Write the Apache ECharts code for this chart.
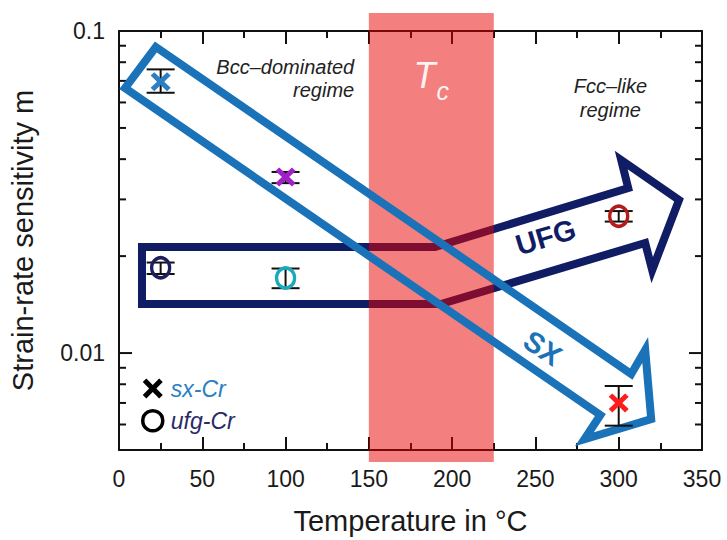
<!DOCTYPE html>
<html><head><meta charset="utf-8">
<script src="https://cdn.jsdelivr.net/npm/echarts@6/dist/echarts.min.js"></script>
<style>html,body{margin:0;padding:0;background:#fff}#c{width:727px;height:540px}</style>
</head><body><div id="c"></div>
<script>
const FONT = '"Liberation Sans", Arial, Helvetica, sans-serif';

// ---- data ----
const sxTemp = [25, 100, 300];
const sxM    = [0.0696, 0.0352, 0.0070];
const sxLow  = [0.0643, 0.0337, 0.00595];
const sxHigh = [0.0760, 0.0365, 0.00790];

const ufgTemp = [25, 100, 300];
const ufgM    = [0.0184, 0.0171, 0.0266];
const ufgLow  = [0.0176, 0.0159, 0.0256];
const ufgHigh = [0.0191, 0.0183, 0.0276];

const xTickLabels = [0, 50, 100, 150, 200, 250, 300, 350];
const yTickLabels = [0.01, 0.1];
const yMinorTicks = [0.006, 0.007, 0.008, 0.009, 0.02, 0.03, 0.04, 0.05, 0.06, 0.07, 0.08, 0.09];

const tcRange = [150, 225];

// arrow outlines in data coordinates (temperature, m)
const sxArrowT = [22.1, 307.5, 315.9, 319.5, 279.4, 289.0, 3.6];
const sxArrowM = [0.0892, 0.00861, 0.01022, 0.00624, 0.00540, 0.00642, 0.0665];
const ufgArrowT = [13.8, 189.7, 305.7, 301.5, 336.2, 320.1, 315.9, 193.3, 13.8];
const ufgArrowM = [0.02134, 0.02134, 0.03254, 0.03975, 0.02986, 0.01810, 0.02196, 0.01420, 0.01420];

// ---- styles ----
const sxColors  = ['#2b7fc4', '#a021c8', '#ff1c1c'];
const ufgColors = ['#1e1e5e', '#1aaabb', '#b31a1a'];
const SX_BLUE = '#1a72b8';
const UFG_NAVY = '#101c64';
const X_PATH = 'path://M0,1.8 L1.8,0 L5,3.2 L8.2,0 L10,1.8 L6.8,5 L10,8.2 L8.2,10 L5,6.8 L1.8,10 L0,8.2 L3.2,5 Z';

const chart = echarts.init(document.getElementById('c'), null, {renderer: 'svg'});

function polygonItem(T, M, color) {
  return function (params, api) {
    const pts = T.map((t, i) => api.coord([t, M[i]]));
    return {
      type: 'polygon',
      shape: {points: pts},
      style: {fill: 'none', stroke: color, lineWidth: 8, lineJoin: 'miter', miterLimit: 12}
    };
  };
}

const axisCommon = {
  axisLine: {show: true, onZero: false, lineStyle: {color: '#111', width: 2}},
  splitLine: {show: false}
};

const option = {
  animation: false,
  backgroundColor: '#fff',
  grid: {left: 117, top: 31, right: 25, bottom: 89, containLabel: false},
  legend: {
    orient: 'vertical', left: 136, top: 372, itemWidth: 26, itemHeight: 20, itemGap: 9,
    selectedMode: false,
    textStyle: {fontSize: 23, fontStyle: 'italic', fontFamily: FONT},
    data: [
      {name: 'sx-Cr', icon: X_PATH, itemStyle: {color: '#000'}, textStyle: {color: '#2b7fc4'}},
      {name: 'ufg-Cr', icon: 'circle', itemStyle: {color: 'rgba(0,0,0,0)', borderColor: '#000', borderWidth: 3.5}, textStyle: {color: '#2a2a66'}}
    ]
  },
  xAxis: [
    Object.assign({}, axisCommon, {
      type: 'value', min: xTickLabels[0], max: xTickLabels[xTickLabels.length - 1], interval: 50, position: 'bottom',
      axisTick: {show: true, inside: true, length: 13, lineStyle: {color: '#111', width: 2}},
      minorTick: {show: true, splitNumber: 2, length: 7, lineStyle: {color: '#111', width: 2}},
      axisLabel: {fontSize: 23, color: '#1a1a1a', margin: 17, fontFamily: FONT},
      name: 'Temperature in °C', nameLocation: 'middle', nameGap: 56,
      nameTextStyle: {fontSize: 29, color: '#1a1a1a', fontFamily: FONT}
    }),
    Object.assign({}, axisCommon, {
      type: 'value', min: xTickLabels[0], max: xTickLabels[xTickLabels.length - 1], interval: 50, position: 'top',
      axisTick: {show: true, inside: true, length: 13, lineStyle: {color: '#111', width: 2}},
      minorTick: {show: true, splitNumber: 2, length: 7, lineStyle: {color: '#111', width: 2}},
      axisLabel: {show: false}
    })
  ],
  yAxis: [
    Object.assign({}, axisCommon, {
      type: 'log', logBase: 10, min: 0.005, max: 0.1, position: 'left',
      axisTick: {show: false},
      axisLabel: {
        fontSize: 23, color: '#1a1a1a', margin: 14, fontFamily: FONT, showMinLabel: true,
        formatter: function (v) {
          for (const t of yTickLabels) { if (Math.abs(v - t) / t < 1e-6) return String(t); }
          return '';
        }
      },
      name: 'Strain-rate sensitivity m', nameLocation: 'middle', nameGap: 82, nameRotate: 90,
      nameTextStyle: {fontSize: 29, color: '#1a1a1a', fontFamily: FONT}
    }),
    Object.assign({}, axisCommon, {
      type: 'log', logBase: 10, min: 0.005, max: 0.1, position: 'right',
      axisTick: {show: false}, axisLabel: {show: false}
    })
  ],
  series: [
    // y ticks (major + minor, both sides)
    {
      type: 'custom', z: 2, silent: true, clip: false,
      data: yTickLabels.map(v => [0, v, 1]).concat(yMinorTicks.map(v => [0, v, 0])),
      encode: {x: 0, y: 1},
      renderItem: function (params, api) {
        const cs = params.coordSys;
        const y = api.coord([0, api.value(1)])[1];
        const len = api.value(2) ? 13 : 7;
        const st = {stroke: '#111', lineWidth: 2};
        return {type: 'group', children: [
          {type: 'line', shape: {x1: cs.x, y1: y, x2: cs.x + len, y2: y}, style: st},
          {type: 'line', shape: {x1: cs.x + cs.width - len, y1: y, x2: cs.x + cs.width, y2: y}, style: st}
        ]};
      }
    },
    // UFG arrow (under the band)
    {type: 'custom', z: 1, silent: true, clip: false, data: [[ufgArrowT[0], ufgArrowM[0]]], encode: {x: 0, y: 1},
     renderItem: polygonItem(ufgArrowT, ufgArrowM, UFG_NAVY)},
    // Tc band
    {
      type: 'custom', z: 3, silent: true, clip: false,
      data: [[tcRange[0], tcRange[1], 0.05]], encode: {x: [0, 1], y: 2},
      renderItem: function (params, api) {
        const cs = params.coordSys;
        const x0 = api.coord([api.value(0), 0.05])[0];
        const x1 = api.coord([api.value(1), 0.05])[0];
        return {type: 'rect', shape: {x: x0, y: cs.y - 18, width: x1 - x0, height: cs.height + 30},
                style: {fill: 'rgba(233,0,0,0.5)'}};
      }
    },
    // SX arrow (over the band)
    {type: 'custom', z: 4, silent: true, clip: false, data: [[sxArrowT[0], sxArrowM[0]]], encode: {x: 0, y: 1},
     renderItem: polygonItem(sxArrowT, sxArrowM, SX_BLUE)},
    // annotation texts
    {
      type: 'custom', z: 6, silent: true, clip: false, data: [[0, 0.05]], encode: {x: 0, y: 1},
      renderItem: function (params, api) {
        const P = (t, m) => api.coord([t, m]);
        const txt = (pt, text, o) => Object.assign({type: 'text', x: pt[0], y: pt[1],
          style: Object.assign({text: text, fontFamily: FONT, verticalAlign: 'middle'}, o.style || {})},
          o.rotation !== undefined ? {rotation: o.rotation} : {});
        const ann = {fontSize: 20, fontStyle: 'italic', fill: '#222'};
        const white = 'rgba(255,255,255,0.92)';
        return {type: 'group', children: [
          txt(P(141.2, 0.0773), 'Bcc–dominated', {style: Object.assign({align: 'right'}, ann)}),
          txt(P(141.2, 0.0656), 'regime', {style: Object.assign({align: 'right'}, ann)}),
          txt(P(295, 0.0675), 'Fcc–like', {style: Object.assign({align: 'center'}, ann)}),
          txt(P(295, 0.0568), 'regime', {style: Object.assign({align: 'center'}, ann)}),
          {type: 'text', x: P(187.5, 0.0725)[0], y: P(187.5, 0.0725)[1],
           style: {text: '{t|T}{c|c}', align: 'center', verticalAlign: 'middle', fontFamily: FONT,
             rich: {
               t: {fontSize: 36, lineHeight: 36, fontStyle: 'italic', fill: white, color: white, fontFamily: FONT, verticalAlign: 'top'},
               c: {fontSize: 25, lineHeight: 25, fontStyle: 'italic', fill: white, color: white, fontFamily: FONT, verticalAlign: 'top', padding: [21, 0, 0, 1]}
             }}},
          txt(P(254.3, 0.01036), 'SX', {rotation: -0.60, style: {align: 'center', fontSize: 29, fontWeight: 'bold', fill: SX_BLUE}}),
          txt(P(256.1, 0.02292), 'UFG', {rotation: 0.29, style: {align: 'center', fontSize: 29, fontWeight: 'bold', fill: UFG_NAVY}})
        ]};
      }
    },
    // error bars
    {
      type: 'custom', z: 7, silent: true, clip: false,
      data: sxTemp.map((t, i) => [t, sxLow[i], sxHigh[i]]).concat(ufgTemp.map((t, i) => [t, ufgLow[i], ufgHigh[i]])),
      encode: {x: 0, y: [1, 2]},
      renderItem: function (params, api) {
        const a = api.coord([api.value(0), api.value(1)]);
        const b = api.coord([api.value(0), api.value(2)]);
        const w = 14, st = {stroke: '#111', lineWidth: 2};
        return {type: 'group', children: [
          {type: 'line', shape: {x1: a[0], y1: a[1], x2: b[0], y2: b[1]}, style: st},
          {type: 'line', shape: {x1: a[0] - w, y1: a[1], x2: a[0] + w, y2: a[1]}, style: st},
          {type: 'line', shape: {x1: b[0] - w, y1: b[1], x2: b[0] + w, y2: b[1]}, style: st}
        ]};
      }
    },
    {
      name: 'sx-Cr', type: 'scatter', z: 8, symbol: X_PATH, symbolSize: [20, 19],
      itemStyle: {color: '#000', opacity: 1}, emphasis: {disabled: true},
      data: sxTemp.map((t, i) => ({value: [t, sxM[i]], itemStyle: {color: sxColors[i]}}))
    },
    {
      name: 'ufg-Cr', type: 'scatter', z: 8, symbol: 'circle', symbolSize: [18, 20],
      itemStyle: {color: 'rgba(0,0,0,0)', borderColor: '#000', borderWidth: 3.5, opacity: 1}, emphasis: {disabled: true},
      data: ufgTemp.map((t, i) => ({value: [t, ufgM[i]], itemStyle: {borderColor: ufgColors[i]}}))
    }
  ]
};
chart.setOption(option);
</script>
</body></html>
